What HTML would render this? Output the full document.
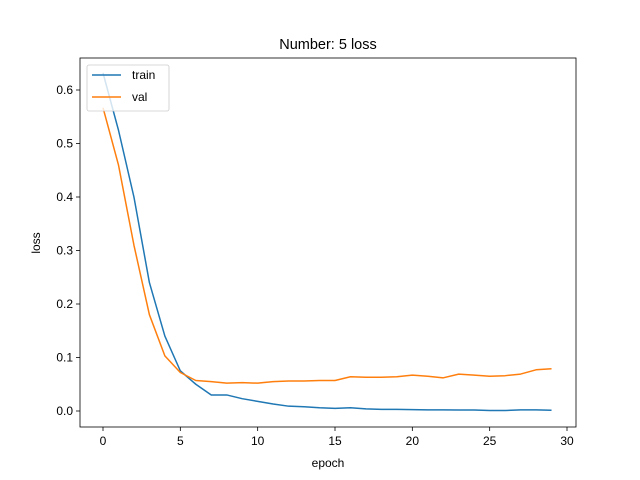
<!DOCTYPE html>
<html><head><meta charset="utf-8"><style>
body{margin:0;background:#fff}
svg{display:block;font-family:"Liberation Sans","DejaVu Sans",sans-serif}
</style></head><body>
<svg id="chart" width="640" height="480" viewBox="0 0 640 480">
<rect width="640" height="480" fill="#fff"/>
<text x="328" y="49" font-size="14.5" text-anchor="middle">Number: 5 loss</text>
<g id="plot"></g>
<text x="328" y="467" font-size="12" text-anchor="middle">epoch</text>
<text x="0" y="0" font-size="12" text-anchor="middle" transform="translate(40,243) rotate(-90)">loss</text>
</svg>
<script>
const epochs=[0,1,2,3,4,5,6,7,8,9,10,11,12,13,14,15,16,17,18,19,20,21,22,23,24,25,26,27,28,29];
const trainLoss=[0.632,0.525,0.40,0.24,0.14,0.075,0.05,0.03,0.03,0.023,0.018,0.013,0.009,0.008,0.006,0.005,0.006,0.004,0.003,0.003,0.0025,0.002,0.002,0.0018,0.0018,0.001,0.001,0.002,0.002,0.0015];
const valLoss=[0.567,0.46,0.31,0.18,0.103,0.072,0.057,0.055,0.052,0.053,0.052,0.055,0.056,0.056,0.057,0.057,0.064,0.063,0.063,0.064,0.067,0.065,0.062,0.069,0.067,0.065,0.066,0.069,0.077,0.079];
const xTicks=[0,5,10,15,20,25,30];
const yTicks=[0.0,0.1,0.2,0.3,0.4,0.5,0.6];
const L=80,R=576,T=58,B=427;
const X=v=>103+v*(567-103)/30;
const Y=v=>411-v*535;
const NS="http://www.w3.org/2000/svg";
const g=document.getElementById('plot');
function mk(t,a){const e=document.createElementNS(NS,t);for(const k in a)e.setAttribute(k,a[k]);g.appendChild(e);return e;}
xTicks.forEach(t=>{
  const l=mk('line',{x1:X(t),x2:X(t),y1:B,y2:B+4,stroke:'#000','stroke-width':0.8});
  
  
  const s=mk('text',{x:X(t),y:B+18,'font-size':12,'text-anchor':'middle'});s.textContent=t;
  
  
});
yTicks.forEach(t=>{
  const l=mk('line',{x1:L-4,x2:L,y1:Y(t),y2:Y(t),stroke:'#000','stroke-width':0.8});
  
  
  const s=mk('text',{x:L-7,y:Y(t)+4,'font-size':12,'text-anchor':'end'});s.textContent=t.toFixed(1);
  
  
});
function series(vals,color,name){
  const p=mk('polyline',{points:vals.map((v,i)=>X(epochs[i])+','+Y(v)).join(' '),fill:'none',stroke:color,'stroke-width':1.5,'stroke-linejoin':'round'});
  
  
}
series(trainLoss,'#1f77b4','train-line');
series(valLoss,'#ff7f0e','val-line');
const fr=mk('rect',{x:L,y:T,width:R-L,height:B-T,fill:'none',stroke:'#000','stroke-width':0.8});


const lg=mk('rect',{x:87,y:65,width:82,height:46,rx:2,fill:'#fff','fill-opacity':0.8,stroke:'#ccc','stroke-width':0.8});


[['train','#1f77b4',75],['val','#ff7f0e',97]].forEach(([n,c,y])=>{
  const l=mk('line',{x1:92,x2:121,y1:y,y2:y,stroke:c,'stroke-width':1.5});
  
  
  const s=mk('text',{x:132,y:y+4,'font-size':12});s.textContent=n;
  
  
});
</script>
</body></html>
